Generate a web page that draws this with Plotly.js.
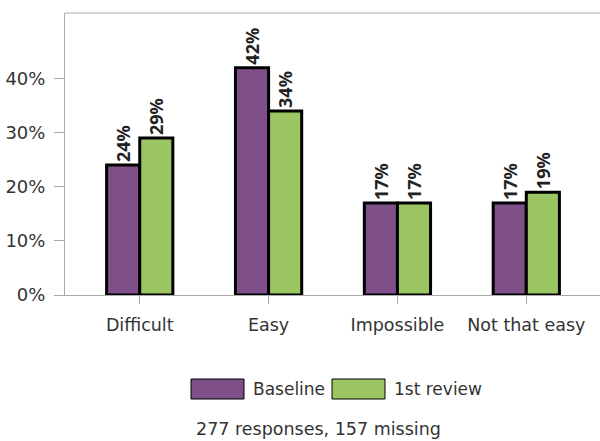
<!DOCTYPE html>
<html>
<head>
<meta charset="utf-8">
<script src="https://cdn.plot.ly/plotly-3.0.1.min.js"></script>
<style>html,body{margin:0;padding:0;background:#fff;}#chart{width:600px;height:441px;}</style>
</head>
<body>
<div id="chart"></div>
<script>
var categories = ["Difficult", "Easy", "Impossible", "Not that easy"];
var baseline = [0.24, 0.42, 0.17, 0.17];
var review1 = [0.29, 0.34, 0.17, 0.19];
var seriesNames = ["Baseline", "1st review"];
var footerText = "277 responses, 157 missing";

var FONT = "DejaVu Sans, Verdana, sans-serif";
var LABELFONT = "Noto Sans, Open Sans, sans-serif";
var purple = "#7e4f88";
var green = "#9cc563";

function labels(arr){ return arr.map(function(v){ return Math.round(v*100) + "%"; }); }

var traces = [
  {type:"bar", name:seriesNames[0], x:categories, y:baseline, text:labels(baseline),
   textposition:"outside", textangle:-90, cliponaxis:false, constraintext:"none",
   textfont:{family:LABELFONT, size:18, color:"#222", weight:"bold"},
   marker:{color:purple, line:{color:"#000", width:3}}, hoverinfo:"none"},
  {type:"bar", name:seriesNames[1], x:categories, y:review1, text:labels(review1),
   textposition:"outside", textangle:-90, cliponaxis:false, constraintext:"none",
   textfont:{family:LABELFONT, size:18, color:"#222", weight:"bold"},
   marker:{color:green, line:{color:"#000", width:3}}, hoverinfo:"none"}
];

var L = 65, R = 600, T = 13, B = 295;
function px(x){ return (x - L) / (R - L); }
function py(y){ return (B - y) / (B - T); }

var layout = {
  width:600, height:441,
  margin:{l:L, r:600-R, t:T, b:441-B, pad:0},
  paper_bgcolor:"#fff", plot_bgcolor:"#fff",
  barmode:"group", bargap:0.486, bargroupgap:0,
  showlegend:false,
  font:{family:FONT, size:17, color:"#333"},
  xaxis:{type:"category", range:[-0.58, 3.572], showline:true, linecolor:"#aaa", linewidth:1,
         ticks:"outside", ticklen:8, tickcolor:"#aaa", showgrid:false, zeroline:false,
         ticklabelstandoff:6,
         tickfont:{family:FONT, size:17.5, color:"#333"}, fixedrange:true},
  yaxis:{range:[0, 0.521], tickformat:".0%", tickvals:[0,0.1,0.2,0.3,0.4], showline:true,
         linecolor:"#aaa", linewidth:1, ticks:"outside", ticklen:10, tickcolor:"#aaa",
         ticklabelstandoff:5,
         showgrid:false, zeroline:false, tickfont:{family:FONT, size:18, color:"#333"}, fixedrange:true},
  shapes:[
    {type:"line", xref:"paper", yref:"paper", x0:0, x1:1, y0:1, y1:1, line:{color:"#aaa", width:1}},
    {type:"rect", xref:"paper", yref:"paper", x0:px(191), x1:px(244), y0:py(379), y1:py(399),
     fillcolor:purple, line:{color:"#000", width:1}},
    {type:"rect", xref:"paper", yref:"paper", x0:px(332), x1:px(385), y0:py(379), y1:py(399),
     fillcolor:green, line:{color:"#000", width:1}}
  ],
  annotations:[
    {xref:"paper", yref:"paper", x:px(251), y:py(389), xanchor:"left", yanchor:"middle",
     text:seriesNames[0], showarrow:false, font:{family:FONT, size:17, color:"#333"}},
    {xref:"paper", yref:"paper", x:px(392), y:py(389), xanchor:"left", yanchor:"middle",
     text:seriesNames[1], showarrow:false, font:{family:FONT, size:17, color:"#333"}},
    {xref:"paper", yref:"paper", x:px(318), y:py(429), xanchor:"center", yanchor:"middle",
     text:footerText, showarrow:false, font:{family:FONT, size:17.5, color:"#333"}}
  ]
};

Plotly.newPlot("chart", traces, layout, {displayModeBar:false, staticPlot:true});
</script>
</body>
</html>
